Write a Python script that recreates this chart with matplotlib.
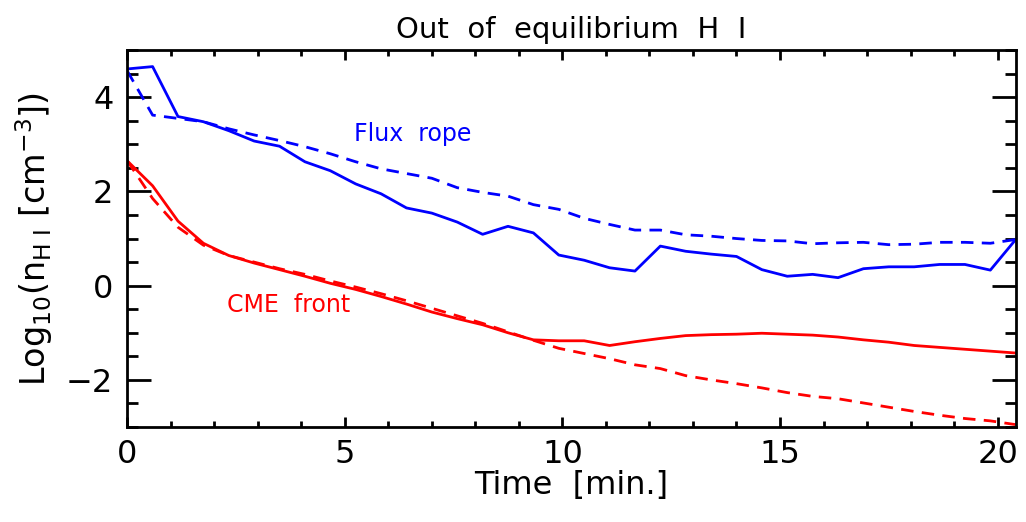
"""
Out of equilibrium H I の密度変化をプロットする
"""

import matplotlib
import matplotlib.pyplot as plt
import numpy as np
from matplotlib.ticker import MultipleLocator

matplotlib.use("Agg")

# 時間 [min.] (35秒刻み, 36点)
time_min = np.arange(36) * 35.0 / 60.0

# Flux rope (青)
flux_rope_solid = [
    4.60, 4.65, 3.59, 3.48, 3.29, 3.07, 2.96, 2.63, 2.44, 2.16,
    1.95, 1.65, 1.54, 1.35, 1.09, 1.26, 1.12, 0.65, 0.54, 0.38,
    0.31, 0.84, 0.73, 0.67, 0.62, 0.34, 0.20, 0.24, 0.17, 0.36,
    0.40, 0.40, 0.45, 0.45, 0.33, 0.98,
]
flux_rope_dashed = [
    4.56, 3.62, 3.55, 3.48, 3.33, 3.20, 3.08, 2.95, 2.80, 2.63,
    2.48, 2.38, 2.28, 2.08, 1.98, 1.90, 1.72, 1.62, 1.43, 1.30,
    1.18, 1.18, 1.08, 1.05, 1.00, 0.96, 0.95, 0.89, 0.91, 0.92,
    0.87, 0.88, 0.92, 0.92, 0.90, 0.98,
]

# CME front (赤)
cme_front_solid = [
    2.65, 2.12, 1.37, 0.90, 0.64, 0.48, 0.34, 0.20, 0.05, -0.08,
    -0.23, -0.39, -0.56, -0.70, -0.83, -1.00, -1.15, -1.17, -1.17, -1.27,
    -1.19, -1.12, -1.06, -1.04, -1.03, -1.01, -1.03, -1.05, -1.09, -1.15,
    -1.20, -1.27, -1.31, -1.35, -1.39, -1.43,
]
cme_front_dashed = [
    2.65, 1.85, 1.24, 0.86, 0.64, 0.50, 0.36, 0.24, 0.10, -0.03,
    -0.17, -0.32, -0.48, -0.64, -0.80, -0.98, -1.16, -1.33, -1.44, -1.55,
    -1.68, -1.76, -1.91, -2.00, -2.08, -2.17, -2.27, -2.35, -2.40, -2.49,
    -2.58, -2.67, -2.75, -2.82, -2.87, -2.95,
]

plt.rcParams["font.family"] = ["DejaVu Sans"]
plt.rcParams["axes.unicode_minus"] = True

fig = plt.figure(figsize=(10.26, 5.22), dpi=100)
ax = fig.add_axes([0.124, 0.182, 0.866, 0.722])

lw = 2.0
dash = (4.5, 3.0)
ax.plot(time_min, flux_rope_solid, color="#0000ff", lw=lw)
ax.plot(time_min, flux_rope_dashed, color="#0000ff", lw=lw, dashes=dash)
ax.plot(time_min, cme_front_solid, color="#ff0000", lw=lw)
ax.plot(time_min, cme_front_dashed, color="#ff0000", lw=lw, dashes=dash)

# ラベル
ax.text(5.2, 3.22, "Flux  rope", color="#0000ff", fontsize=17,
        ha="left", va="center")
ax.text(2.3, -0.41, "CME  front", color="#ff0000", fontsize=17,
        ha="left", va="center")

ax.set_xlim(time_min[0], time_min[-1])
ax.set_ylim(-3, 5)
ax.xaxis.set_major_locator(MultipleLocator(5))
ax.xaxis.set_minor_locator(MultipleLocator(1))
ax.yaxis.set_major_locator(MultipleLocator(2))
ax.yaxis.set_minor_locator(MultipleLocator(0.5))

ax.tick_params(axis="both", which="both", direction="in",
               top=True, right=True, width=2, labelsize=23)
ax.tick_params(axis="x", which="major", length=7, pad=9)
ax.tick_params(axis="x", which="minor", length=4)
ax.tick_params(axis="y", which="major", length=17, pad=10)
ax.tick_params(axis="y", which="minor", length=8)
for sp in ax.spines.values():
    sp.set_linewidth(2)

ax.set_title("Out  of  equilibrium  H  I", fontsize=21, pad=9)
ax.set_xlabel("Time  [min.]", fontsize=23, labelpad=0)
ax.set_ylabel(r"Log$_{10}$(n$_{\mathrm{H\ I}}$ [cm$^{-3}$])", fontsize=24,
              labelpad=8)

plt.savefig("out.png", dpi=100)
plt.close()
